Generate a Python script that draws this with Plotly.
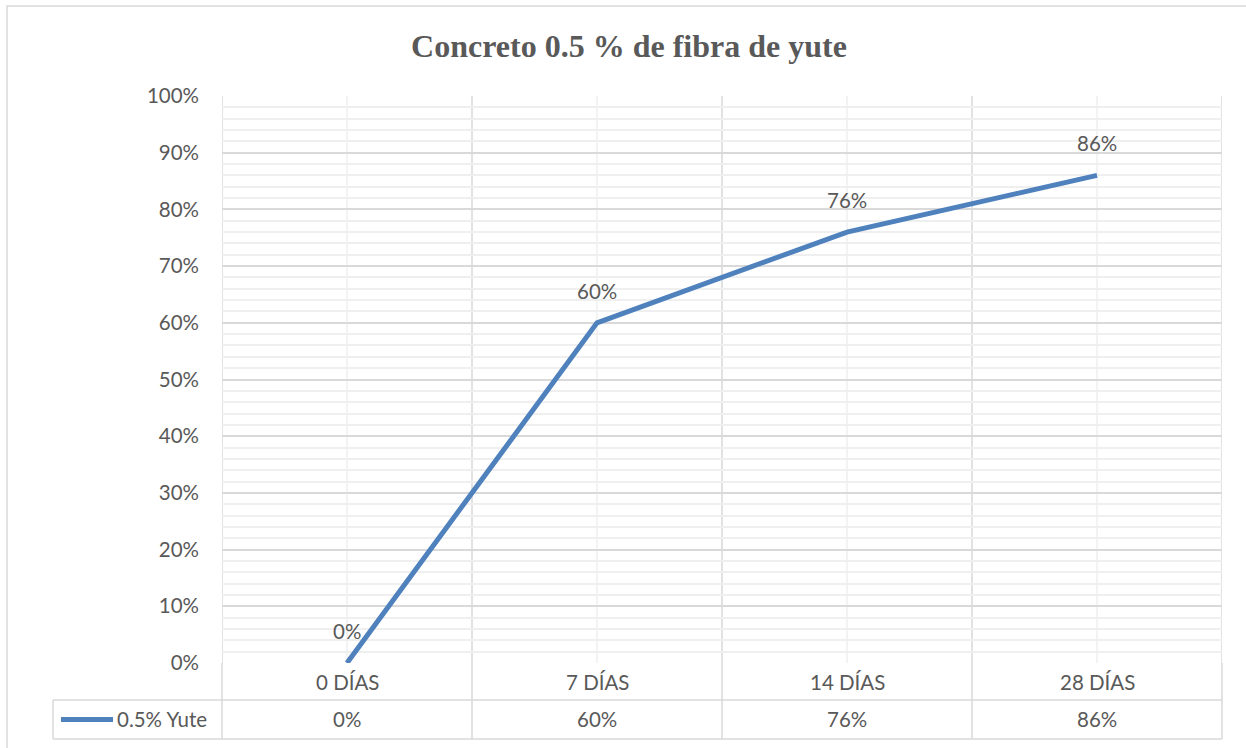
import plotly.graph_objects as go

# Data
categories = ["0 DÍAS", "7 DÍAS", "14 DÍAS", "28 DÍAS"]
series_name = "0.5% Yute"
values = [0.00, 0.60, 0.76, 0.86]
title_text = "Concreto 0.5 % de fibra de yute"

W, H = 1246, 748
L, R, T, B = 222, 24, 96, 85
PW, PH = W - L - R, H - T - B

LINE_COLOR = "#4F81BD"
TEXT_COLOR = "#595959"
MAJOR = "#D9D9D9"
MINOR = "#EFEFEF"
FONT = "Lato, Calibri, sans-serif"
FS = 20.5


def px_x(p):
    return (p - L) / PW


def px_y(p):
    return (H - B - p) / PH


n = len(categories)
xs = list(range(n))

fig = go.Figure()
fig.add_trace(go.Scatter(
    x=xs, y=values, mode="lines", name=series_name,
    line=dict(color=LINE_COLOR, width=5),
    showlegend=False, cliponaxis=False,
))

shapes = []
# vertical gridlines: category boundaries (major) and centres (minor)
for i in range(n + 1):
    shapes.append(dict(type="line", xref="x", yref="paper", x0=i - 0.5, x1=i - 0.5,
                       y0=0, y1=1, line=dict(color=MAJOR, width=1.5), layer="below"))
for i in xs:
    shapes.append(dict(type="line", xref="x", yref="paper", x0=i, x1=i,
                       y0=0, y1=1, line=dict(color=MINOR, width=1.5), layer="below"))

# data table grid below the axis
row1 = px_y(700)
row2 = px_y(739)
for yy in (row1, row2):
    shapes.append(dict(type="line", xref="paper", yref="paper", x0=px_x(53), x1=1,
                       y0=yy, y1=yy, line=dict(color=MAJOR, width=1.5)))
for i in range(n + 1):
    xp = i / n
    shapes.append(dict(type="line", xref="paper", yref="paper", x0=xp, x1=xp,
                       y0=row2, y1=0, line=dict(color=MAJOR, width=1.5)))
shapes.append(dict(type="line", xref="paper", yref="paper", x0=px_x(53), x1=px_x(53),
                   y0=row2, y1=row1, line=dict(color=MAJOR, width=1.5)))
# legend key inside the table
shapes.append(dict(type="line", xref="paper", yref="paper", x0=px_x(61), x1=px_x(113),
                   y0=px_y(719.5), y1=px_y(719.5), line=dict(color=LINE_COLOR, width=5)))
# chart border
shapes.append(dict(type="rect", xref="paper", yref="paper", x0=px_x(7), x1=px_x(1250),
                   y0=px_y(752), y1=px_y(6), line=dict(color=MAJOR, width=1.5)))

annotations = []
# data labels above the points
for x, v in zip(xs, values):
    annotations.append(dict(x=x, y=v, xref="x", yref="y", text=f"{v:.0%}",
                            showarrow=False, yshift=32,
                            font=dict(family=FONT, size=FS, color=TEXT_COLOR)))
# table: category row and value row
for x, c, v in zip(xs, categories, values):
    annotations.append(dict(x=x, y=0, xref="x", yref="paper", text=c, showarrow=False,
                            yanchor="middle", yshift=-19,
                            font=dict(family=FONT, size=FS, color=TEXT_COLOR)))
    annotations.append(dict(x=x, y=0, xref="x", yref="paper", text=f"{v:.0%}",
                            showarrow=False, yanchor="middle", yshift=-56,
                            font=dict(family=FONT, size=FS, color=TEXT_COLOR)))
annotations.append(dict(x=px_x(115), y=px_y(719), xref="paper", yref="paper",
                        text=series_name, showarrow=False, xanchor="left", yanchor="middle",
                        font=dict(family=FONT, size=FS, color=TEXT_COLOR)))

fig.update_layout(
    width=W, height=H,
    margin=dict(l=L, r=R, t=T, b=B),
    paper_bgcolor="white", plot_bgcolor="white",
    title=dict(text=f"<b>{title_text}</b>", x=px_x(629), xref="paper", xanchor="center",
               y=1 - 46 / H, yanchor="middle",
               font=dict(family="Liberation Serif, Times New Roman, serif", size=32,
                         color=TEXT_COLOR)),
    xaxis=dict(range=[-0.5, n - 0.5], showgrid=False, zeroline=False,
               showticklabels=False, showline=False, fixedrange=True),
    yaxis=dict(range=[0, 1], tickformat=".0%", dtick=0.1, tick0=0,
               showgrid=True, gridcolor=MAJOR, gridwidth=1.5,
               minor=dict(dtick=0.02, showgrid=True, gridcolor=MINOR, gridwidth=1.5),
               zeroline=False, showline=False, ticks="",
               ticklabelstandoff=22,
               tickfont=dict(family=FONT, size=FS, color=TEXT_COLOR)),
    shapes=shapes,
    annotations=annotations,
)

fig.write_html("out.html")
